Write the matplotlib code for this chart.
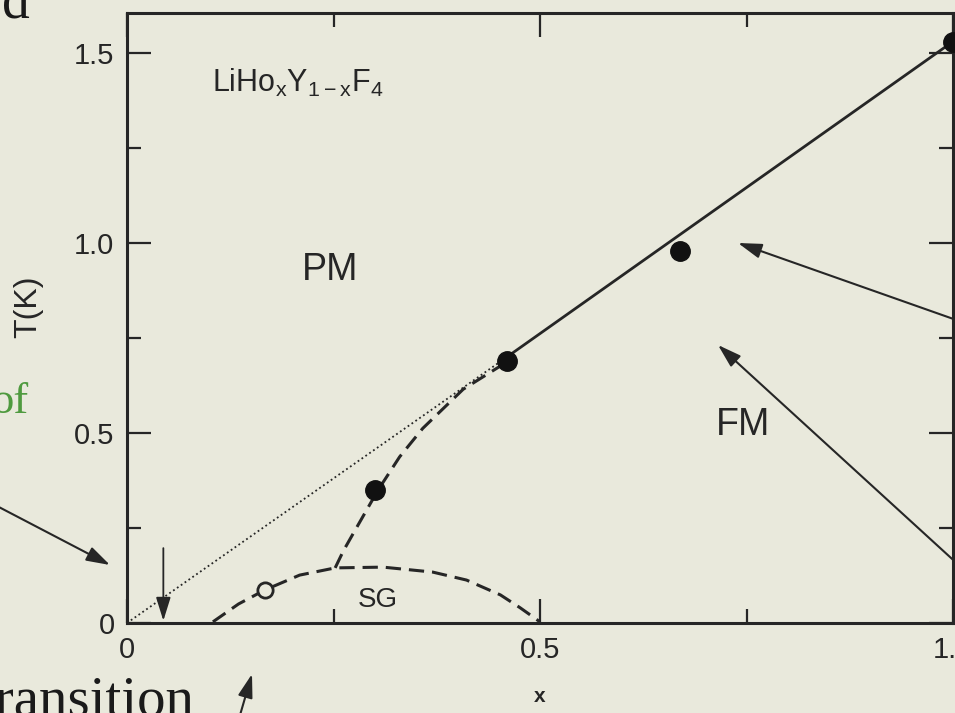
import matplotlib
matplotlib.use("Agg")
import matplotlib.pyplot as plt
from matplotlib.ticker import MultipleLocator, FixedLocator, FixedFormatter

plt.rcParams['font.family'] = ['Liberation Sans', 'DejaVu Sans']
plt.rcParams['mathtext.fontset'] = 'custom'
plt.rcParams['mathtext.rm'] = 'Liberation Sans'
plt.rcParams['mathtext.default'] = 'regular'

BG = '#E9E9DC'
INK = '#262626'

# Measured transition temperatures of LiHo_xY_{1-x}F_4
fm_x = [0.30, 0.46, 0.67, 1.00]
fm_T = [0.35, 0.69, 0.98, 1.53]
sg_x = [0.167]
sg_T = [0.087]

# Mean-field line T = 1.53 x (solid above x~0.46, dotted below)
mf_solid_x = [0.46, 1.00]
mf_solid_T = [0.70, 1.53]
mf_dot_x = [0.0, 0.46]
mf_dot_T = [0.0, 0.70]

# Spin-glass dome boundary
dome_x = [0.104, 0.135, 0.167, 0.209, 0.252, 0.31, 0.37, 0.411, 0.452, 0.476, 0.50]
dome_T = [0.003, 0.050, 0.087, 0.126, 0.145, 0.147, 0.134, 0.113, 0.074, 0.040, 0.003]

# Dashed PM/FM boundary bending down onto the dome
branch_x = [0.252, 0.262, 0.274, 0.289, 0.304, 0.33, 0.358, 0.407, 0.46]
branch_T = [0.145, 0.190, 0.236, 0.293, 0.350, 0.437, 0.512, 0.615, 0.687]

fig = plt.figure(figsize=(9.55, 7.13), dpi=100, facecolor=BG)
ax = fig.add_axes([127/955, 90/713, 826/955, 610/713])
ax.set_facecolor(BG)
ax.set_xlim(0, 1.0)
ax.set_ylim(0, 1.605)

ax.plot(mf_solid_x, mf_solid_T, color=INK, lw=2.0, solid_capstyle='butt')
ax.plot(mf_dot_x, mf_dot_T, color=INK, lw=1.3, linestyle=(0, (1, 1.6)))
ax.plot(dome_x, dome_T, color=INK, lw=2.2, linestyle=(0, (5, 2.6)))
ax.plot(branch_x, branch_T, color=INK, lw=2.2, linestyle=(0, (5, 2.6)))
ax.plot(fm_x, fm_T, 'o', color='#111111', ms=14, clip_on=False, zorder=5)
ax.plot(sg_x, sg_T, 'o', mfc=BG, mec=INK, mew=2.0, ms=11, zorder=5)

# Arrow marking the lower concentration limit
ax.annotate('', xy=(0.044, 0.006), xytext=(0.044, 0.197),
            arrowprops=dict(arrowstyle='-|>,head_length=0.8,head_width=0.25',
                            color=INK, lw=1.3, mutation_scale=18,
                            shrinkA=0, shrinkB=0))

ax.text(0.103, 1.397, r'LiHo$_{x}$Y$_{1-x}$F$_{4}$', fontsize=22, color=INK,
        ha='left', va='baseline')
ax.text(0.246, 0.903, 'PM', fontsize=27, color=INK, ha='center', va='baseline')
ax.text(0.746, 0.495, 'FM', fontsize=27, color=INK, ha='center', va='baseline')
ax.text(0.304, 0.042, 'SG', fontsize=20, color=INK, ha='center', va='baseline')

for s in ax.spines.values():
    s.set_linewidth(2.2)
    s.set_color(INK)

ax.xaxis.set_major_locator(FixedLocator([0, 0.5, 1.0]))
ax.xaxis.set_major_formatter(FixedFormatter(['0', '0.5', '1.0']))
ax.xaxis.set_minor_locator(MultipleLocator(0.25))
ax.yaxis.set_major_locator(FixedLocator([0, 0.5, 1.0, 1.5]))
ax.yaxis.set_major_formatter(FixedFormatter(['0', '0.5', '1.0', '1.5']))
ax.yaxis.set_minor_locator(MultipleLocator(0.25))
ax.tick_params(which='both', direction='in', top=True, right=True,
               color=INK, width=1.6, labelsize=21, labelcolor=INK)
ax.tick_params(which='major', length=17, pad=9)
ax.tick_params(which='minor', length=10)

ax.set_ylabel('T(K)', fontsize=23, color=INK)
ax.yaxis.set_label_coords(-0.101, 0.518)
ax.set_xlabel('x', fontsize=15, color=INK, fontweight='bold')
ax.xaxis.set_label_coords(0.5, -0.105)

# Surrounding slide annotations
serif = ['Liberation Serif', 'DejaVu Serif']
fig.text(2/955, (713 - 17)/713, 'd', fontsize=40, family=serif, color='#1a1a1a',
         ha='left', va='baseline')
fig.text(-9/955, (713 - 413)/713, 'of', fontsize=32, family=serif, color='#4f9a3f',
         ha='left', va='baseline')
fig.text(-20/955, (713 - 716)/713, 'transition', fontsize=41, family=serif,
         color='#1a1a1a', ha='left', va='baseline')

arrow_kw = dict(arrowstyle='-|>,head_length=0.8,head_width=0.25', color=INK,
                lw=1.5, mutation_scale=18, shrinkA=0, shrinkB=0)
for tail, tip in [((-5, 505), (110, 565)),
                  ((962, 322), (738, 243)),
                  ((962, 568), (718, 345)),
                  ((238, 722), (252, 674))]:
    ax.annotate('', xy=(tip[0], 713 - tip[1]), xycoords='figure pixels',
                xytext=(tail[0], 713 - tail[1]), textcoords='figure pixels',
                arrowprops=arrow_kw, annotation_clip=False)

fig.savefig('out.png', dpi=100, facecolor=BG)
